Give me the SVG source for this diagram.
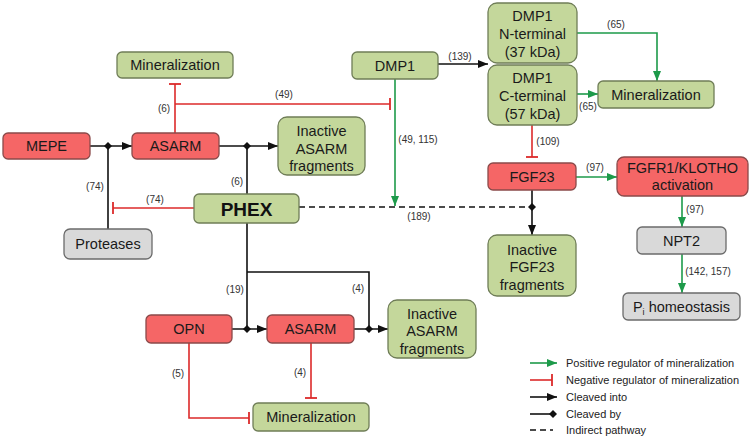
<svg xmlns="http://www.w3.org/2000/svg" width="750" height="440" viewBox="0 0 750 440">
<style>
.g{fill:#c4d79b;stroke:#6f7d57;stroke-width:1.3}
.r{fill:#f56666;stroke:#8a4a4a;stroke-width:1.3}
.y{fill:#d9d9d9;stroke:#6b6b6b;stroke-width:1.3}
.t{font-family:"Liberation Sans",Arial,sans-serif;font-size:14.5px;fill:#1a1a1a;text-anchor:middle}
.b{font-family:"Liberation Sans",Arial,sans-serif;font-size:19px;font-weight:bold;fill:#111;text-anchor:middle}
.l{font-family:"Liberation Sans",Arial,sans-serif;font-size:10px;fill:#333;text-anchor:middle}
.lg{font-family:"Liberation Sans",Arial,sans-serif;font-size:11px;fill:#222}
.k{stroke:#111;stroke-width:1.6;fill:none}
.rd{stroke:#dc2a2a;stroke-width:1.6;fill:none}
.gn{stroke:#1d9a4a;stroke-width:1.6;fill:none}
.ds{stroke:#111;stroke-width:1.6;fill:none;stroke-dasharray:6,4}
</style>
<defs>
<marker id="ak" markerUnits="userSpaceOnUse" viewBox="0 0 10 8" markerWidth="10" markerHeight="8" refX="10" refY="4" orient="auto"><path d="M0,0 L10,4 L0,8 z" fill="#111"/></marker>
<marker id="ag" markerUnits="userSpaceOnUse" viewBox="0 0 10 8" markerWidth="10" markerHeight="8" refX="10" refY="4" orient="auto"><path d="M0,0 L10,4 L0,8 z" fill="#1d9a4a"/></marker>
<marker id="tr" markerUnits="userSpaceOnUse" viewBox="-1 -7 2 14" markerWidth="2" markerHeight="14" refX="0" refY="0" orient="auto"><path d="M0,-6 V6" stroke="#dc2a2a" stroke-width="1.8"/></marker>
<path id="dia" d="M0,-4 L4,0 L0,4 L-4,0 z" fill="#111"/>
</defs>

<g id="connectors">
<path class="k" d="M90,146 H132" marker-end="url(#ak)"/>
<path class="k" d="M108,229 V146"/>
<use href="#dia" x="108" y="146"/>
<text class="l" x="95" y="190">(74)</text>
<path class="k" d="M219,146 H278" marker-end="url(#ak)"/>
<path class="k" d="M247,194 V146"/>
<use href="#dia" x="247" y="146"/>
<text class="l" x="237" y="185">(6)</text>
<path class="rd" d="M175,133 V84" marker-end="url(#tr)"/>
<text class="l" x="164" y="112">(6)</text>
<path class="rd" d="M175,104 H390" marker-end="url(#tr)"/>
<text class="l" x="284" y="98">(49)</text>
<path class="gn" d="M395,79 V206" marker-end="url(#ag)"/>
<text class="l" x="418" y="143">(49, 115)</text>
<path class="ds" d="M299,207 H532"/>
<text class="l" x="419" y="220">(189)</text>
<path class="k" d="M532,190 V235" marker-end="url(#ak)"/>
<use href="#dia" x="532" y="207"/>
<path class="k" d="M438,64 H488" marker-end="url(#ak)"/>
<text class="l" x="460" y="60">(139)</text>
<path class="gn" d="M577,33 H657 V81" marker-end="url(#ag)"/>
<text class="l" x="616" y="28">(65)</text>
<path class="gn" d="M577,94 H598" marker-end="url(#ag)"/>
<text class="l" x="588" y="110">(65)</text>
<path class="rd" d="M532,125 V157" marker-end="url(#tr)"/>
<text class="l" x="548" y="145">(109)</text>
<path class="gn" d="M576,177 H617" marker-end="url(#ag)"/>
<text class="l" x="595" y="171">(97)</text>
<path class="gn" d="M682,196 V227" marker-end="url(#ag)"/>
<text class="l" x="695" y="213">(97)</text>
<path class="gn" d="M682,254 V293" marker-end="url(#ag)"/>
<text class="l" x="708" y="275">(142, 157)</text>
<path class="rd" d="M194,208 H113" marker-end="url(#tr)"/>
<text class="l" x="155" y="203">(74)</text>
<path class="k" d="M247,223 V329"/>
<path class="k" d="M247,272 H369 V329"/>
<text class="l" x="235" y="293">(19)</text>
<text class="l" x="358" y="292">(4)</text>
<path class="k" d="M232,329 H267" marker-end="url(#ak)"/>
<use href="#dia" x="247" y="329"/>
<path class="k" d="M354,329 H388" marker-end="url(#ak)"/>
<use href="#dia" x="369" y="329"/>
<path class="rd" d="M311,343 V398" marker-end="url(#tr)"/>
<text class="l" x="300" y="376">(4)</text>
<path class="rd" d="M189,343 V418 H249" marker-end="url(#tr)"/>
<text class="l" x="178" y="377">(5)</text>
</g>

<g id="mineralization-top"><rect class="g" x="117" y="52" width="116" height="26" rx="5"/><text class="t" x="175" y="70">Mineralization</text></g>
<g id="mepe"><rect class="r" x="3" y="133" width="87" height="26" rx="5"/><text class="t" x="46.5" y="151">MEPE</text></g>
<g id="asarm-top"><rect class="r" x="132" y="133" width="87" height="26" rx="5"/><text class="t" x="175.5" y="151">ASARM</text></g>
<g id="inactive-asarm-top"><rect class="g" x="278" y="117" width="87" height="58" rx="9"/><text class="t" x="321.5" y="136">Inactive</text><text class="t" x="321.5" y="153.5">ASARM</text><text class="t" x="321.5" y="171">fragments</text></g>
<g id="dmp1"><rect class="g" x="352" y="52" width="86" height="27" rx="5"/><text class="t" x="395" y="70.5">DMP1</text></g>
<g id="dmp1-n"><rect class="g" x="488" y="3" width="89" height="60" rx="9"/><text class="t" x="532.5" y="21">DMP1</text><text class="t" x="532.5" y="39">N-terminal</text><text class="t" x="532.5" y="57">(37 kDa)</text></g>
<g id="dmp1-c"><rect class="g" x="488" y="65" width="89" height="60" rx="9"/><text class="t" x="532.5" y="83">DMP1</text><text class="t" x="532.5" y="101">C-terminal</text><text class="t" x="532.5" y="119">(57 kDa)</text></g>
<g id="mineralization-right"><rect class="g" x="598" y="81" width="116" height="27" rx="5"/><text class="t" x="656" y="99.5">Mineralization</text></g>
<g id="fgf23"><rect class="r" x="488" y="163" width="88" height="27" rx="5"/><text class="t" x="532" y="181.5">FGF23</text></g>
<g id="fgfr1"><rect class="r" x="617" y="157" width="131" height="39" rx="7"/><text class="t" x="682.5" y="173">FGFR1/KLOTHO</text><text class="t" x="682.5" y="190">activation</text></g>
<g id="npt2"><rect class="y" x="637" y="227" width="89" height="27" rx="5"/><text class="t" x="681.5" y="245.5">NPT2</text></g>
<g id="pi"><rect class="y" x="623" y="293" width="117" height="27" rx="5"/><text class="t" x="681.5" y="311.5">P<tspan font-size="9" dy="3">i</tspan><tspan dy="-3"> homeostasis</tspan></text></g>
<g id="inactive-fgf23"><rect class="g" x="488" y="235" width="88" height="61" rx="9"/><text class="t" x="532" y="254.5">Inactive</text><text class="t" x="532" y="272">FGF23</text><text class="t" x="532" y="289.5">fragments</text></g>
<g id="phex"><rect class="g" x="194" y="194" width="105" height="29" rx="5"/><text class="b" x="246.5" y="215.5">PHEX</text></g>
<g id="proteases"><rect class="y" x="64" y="229" width="88" height="30" rx="6"/><text class="t" x="108" y="249">Proteases</text></g>
<g id="opn"><rect class="r" x="146" y="315" width="86" height="28" rx="5"/><text class="t" x="189" y="334">OPN</text></g>
<g id="asarm-bottom"><rect class="r" x="267" y="315" width="87" height="28" rx="5"/><text class="t" x="310.5" y="334">ASARM</text></g>
<g id="inactive-asarm-bottom"><rect class="g" x="388" y="300" width="88" height="58" rx="9"/><text class="t" x="432" y="318.5">Inactive</text><text class="t" x="432" y="336">ASARM</text><text class="t" x="432" y="353.5">fragments</text></g>
<g id="mineralization-bottom"><rect class="g" x="253" y="403" width="116" height="28" rx="5"/><text class="t" x="311" y="422">Mineralization</text></g>

<g id="legend">
<path class="gn" d="M530,363 H557" marker-end="url(#ag)"/>
<text class="lg" x="566" y="367">Positive regulator of mineralization</text>
<path class="rd" d="M530,380 H552" marker-end="url(#tr)"/>
<text class="lg" x="566" y="384">Negative regulator of mineralization</text>
<path class="k" d="M530,397 H557" marker-end="url(#ak)"/>
<text class="lg" x="566" y="401">Cleaved into</text>
<path class="k" d="M530,414 H552"/>
<use href="#dia" x="553" y="414"/>
<text class="lg" x="566" y="418">Cleaved by</text>
<path class="ds" d="M530,430 H553" stroke-dasharray="4,3"/>
<text class="lg" x="566" y="434">Indirect pathway</text>
</g>
</svg>
